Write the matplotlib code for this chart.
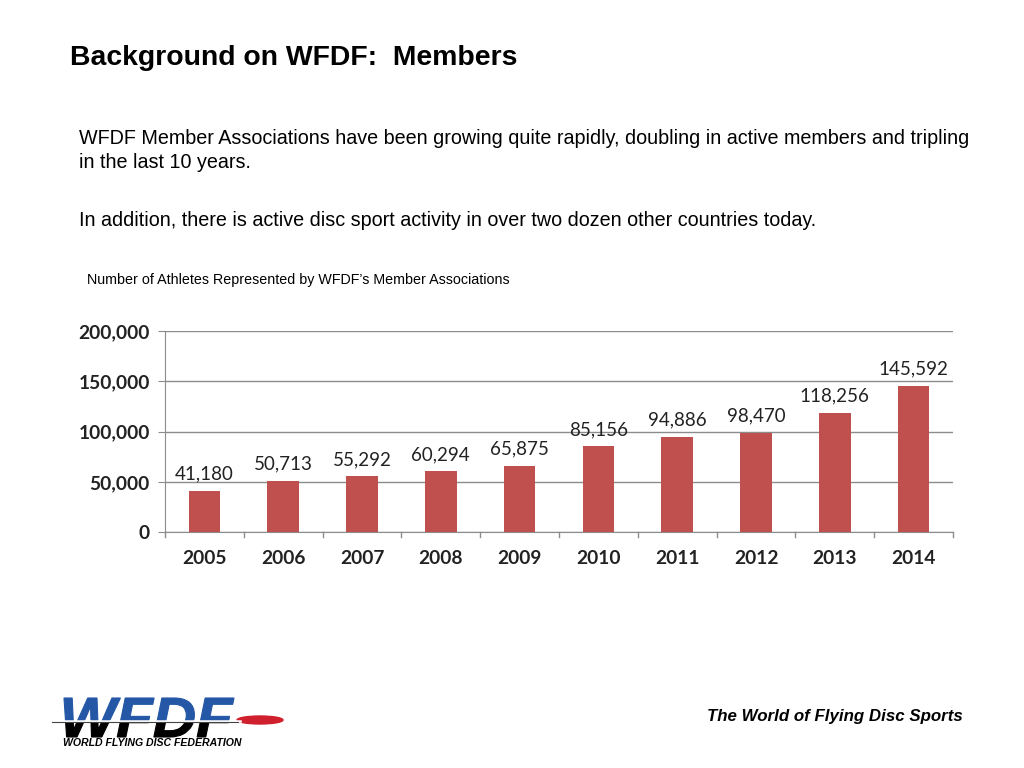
import matplotlib.pyplot as plt
from matplotlib.patches import Rectangle, Ellipse, PathPatch
from matplotlib.textpath import TextPath
from matplotlib.font_manager import FontProperties
from matplotlib.transforms import Affine2D, IdentityTransform
from matplotlib.ticker import FuncFormatter

years = ['2005', '2006', '2007', '2008', '2009', '2010', '2011', '2012', '2013', '2014']
athletes = [41180, 50713, 55292, 60294, 65875, 85156, 94886, 98470, 118256, 145592]
y_ticks = [0, 50000, 100000, 150000, 200000]

W, H = 1024, 768
fig = plt.figure(figsize=(10.24, 7.68), dpi=100)
fig.patch.set_facecolor('white')

# slide texts
fig.text(70 / W, 1 - 58 / H, 'Background on WFDF:  Members', fontsize=20.4, fontweight='bold',
         family='Liberation Sans', va='center', ha='left')
fig.text(79 / W, 1 - 139 / H,
         'WFDF Member Associations have been growing quite rapidly, doubling in active members and tripling',
         fontsize=14.2, family='Liberation Sans', va='center')
fig.text(79 / W, 1 - 163 / H, 'in the last 10 years.', fontsize=14.2, family='Liberation Sans', va='center')
fig.text(79 / W, 1 - 220 / H,
         'In addition, there is active disc sport activity in over two dozen other countries today.',
         fontsize=14.2, family='Liberation Sans', va='center')
fig.text(87 / W, 1 - 280 / H, 'Number of Athletes Represented by WFDF\u2019s Member Associations',
         fontsize=10.3, family='Liberation Sans', va='center')

# chart
ax = fig.add_axes([165 / W, 1 - 532 / H, 788 / W, 201 / H])
x = range(len(years))
bars = ax.bar(x, athletes, width=0.4, color='#C0504D', zorder=3)
for xi, v in zip(x, athletes):
    ax.annotate(f'{v:,}', (xi, v), xytext=(0, 6), textcoords='offset points', ha='center', va='bottom',
                fontsize=13.5, family='Lato', color='#222222')
ax.set_xlim(-0.5, len(years) - 0.5)
ax.set_ylim(0, 200000)
ax.set_yticks(y_ticks)
ax.yaxis.set_major_formatter(FuncFormatter(lambda v, p: f'{int(v):,}'))
ax.set_xticks(list(x))
ax.set_xticklabels(years)
ax.grid(axis='y', color='#8c8c8c', linewidth=1, zorder=0)
for s in ['top', 'right']:
    ax.spines[s].set_visible(False)
ax.spines['left'].set_color('#8c8c8c')
ax.spines['bottom'].set_color('#8c8c8c')
ax.tick_params(axis='y', length=5, color='#8c8c8c', direction='out', labelsize=13.8, pad=6, labelcolor='#222222')
ax.tick_params(axis='x', length=0, labelsize=13.8, pad=13, labelcolor='#222222')
for lab in ax.get_xticklabels() + ax.get_yticklabels():
    lab.set_family('Lato')
    lab.set_fontweight('bold')
# category separators on the x axis
for b in [i + 0.5 for i in range(-1, len(years))]:
    ax.plot([b, b], [0, -4500], color='#8c8c8c', lw=1, clip_on=False)

# footer
fig.text(963 / W, 1 - 716 / H, 'The World of Flying Disc Sports', fontsize=12.2, fontweight='bold',
         style='italic', family='Liberation Sans', ha='right', va='center')

# logo: stretched "WFDF" lettering, blue above the line, black below
tp = TextPath((0, 0), 'WFDF', size=1,
              prop=FontProperties(family='Liberation Sans', weight='bold', style='italic'))
ext = tp.get_extents()
x0, x1, y0, y1 = 64, 234, H - 737, H - 698
sx = (x1 - x0) / ext.width
sy = (y1 - y0) / ext.height
tr = Affine2D().translate(-ext.x0, -ext.y0).scale(sx, sy).translate(x0, y0)
split_px = H - 721
for color, clip in [('#2457A6', (0, split_px, 400, 100)), ('black', (0, 0, 400, split_px))]:
    p = PathPatch(tr.transform_path(tp), facecolor=color, edgecolor=color, lw=0.8,
                  transform=IdentityTransform())
    p.set_clip_path(Rectangle(clip[:2], clip[2], clip[3], transform=IdentityTransform()))
    fig.add_artist(p)
fig.add_artist(plt.Line2D([50 / W, 240 / W], [split_px / H, split_px / H], color='white', lw=1.8))
fig.add_artist(plt.Line2D([52 / W, 238 / W], [(split_px - 1) / H, (split_px - 1) / H], color='#444444', lw=0.8))
fig.add_artist(Ellipse((260 / W, 1 - 720 / H), 46 / W, 8 / H, color='#D0202E',
                       transform=fig.transFigure))
fig.text(63 / W, 1 - 743 / H, 'WORLD FLYING DISC FEDERATION', fontsize=7.6, fontweight='bold',
         style='italic', family='Liberation Sans', va='center')

fig.savefig('out.png', dpi=100)
